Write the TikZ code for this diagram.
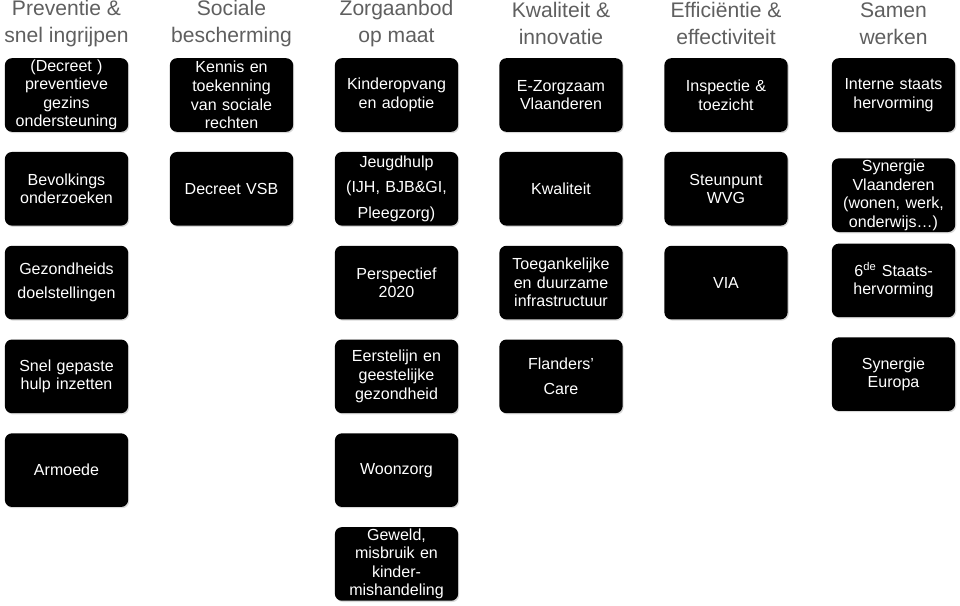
\documentclass[tikz,border=0pt]{standalone}
\usepackage{fontspec}
\setmainfont{Liberation Sans}
\usetikzlibrary{positioning, shadows}
\definecolor{headgray}{RGB}{95,95,95}
\tikzset{
    % header style
    head/.style = {text=headgray, align=center, inner sep=0pt, font=\fontsize{15}{19.2}\selectfont},
    % box style
    item/.style = {fill=black, text=white, rounded corners=5pt, minimum width=3.08cm, minimum height=1.84cm,
        text width=2.95cm, align=center, inner sep=1pt, font=\fontsize{11.4}{13.2}\selectfont,
        drop shadow={opacity=0.3, shadow xshift=0.8pt, shadow yshift=-0.9pt}}
}

\begin{document}
\begin{tikzpicture}[x=0.025cm, y=-0.025cm, node distance=0.49cm]
        \useasboundingbox (0,0) rectangle (960,605);

        % column headers
        \node[head] (hp) at (66.5,23.5) {Preventie \&\\snel ingrijpen};
        \node[head] (hs) at (231.5,23.5) {Sociale\\bescherming};
        \node[head] (hz) at (396.5,23.5) {Zorgaanbod\\op maat};
        \node[head] (hk) at (561,23.5) {Kwaliteit \&\\innovatie};
        \node[head] (he) at (726,23.5) {Efficiëntie \&\\effectiviteit};
        \node[head] (hw) at (893.5,23.5) {Samen\\werken};

        % preventie
        \node[item] (p1) at (66.5,95) {(Decreet )\\preventieve\\gezins\\ondersteuning};
        \node[item] (p2) [below=of p1] {Bevolkings\\onderzoeken};
        \node[item] (p3) [below=of p2] {Gezondheids\\[4pt]doelstellingen};
        \node[item] (p4) [below=of p3] {Snel gepaste\\hulp inzetten};
        \node[item] (p5) [below=of p4] {Armoede};

        % sociale bescherming
        \node[item] (s1) at (231.5,95) {Kennis en\\toekenning\\van sociale\\rechten};
        \node[item] (s2) [below=of s1] {Decreet VSB};

        % zorgaanbod
        \node[item] (z1) at (396.5,95) {Kinderopvang\\en adoptie};
        \node[item] (z2) [below=of z1] {Jeugdhulp\\[5pt](IJH, BJB\&GI,\\[5pt]Pleegzorg)};
        \node[item] (z3) [below=of z2] {Perspectief\\2020};
        \node[item] (z4) [below=of z3] {Eerstelijn en\\geestelijke\\gezondheid};
        \node[item] (z5) [below=of z4] {Woonzorg};
        \node[item] (z6) [below=of z5] {Geweld,\\misbruik en\\kinder-\\mishandeling};

        % kwaliteit
        \node[item] (k1) at (561,95) {E-Zorgzaam\\Vlaanderen};
        \node[item] (k2) [below=of k1] {Kwaliteit};
        \node[item] (k3) [below=of k2] {Toegankelijke\\en duurzame\\infrastructuur};
        \node[item] (k4) [below=of k3] {Flanders’\\[5pt]Care};

        % efficientie
        \node[item] (e1) at (726,95) {Inspectie \&\\toezicht};
        \node[item] (e2) [below=of e1] {Steunpunt\\WVG};
        \node[item] (e3) [below=of e2] {VIA};

        % samen werken
        \node[item] (w1) at (893.5,95) {Interne staats\\hervorming};
        \node[item] (w2) [below=0.65cm of w1] {Synergie\\Vlaanderen\\(wonen, werk,\\onderwijs…)};
        \node[item] (w3) [below=0.275cm of w2] {6\textsuperscript{de} Staats-\\hervorming};
        \node[item] (w4) [below=of w3] {Synergie\\Europa};

    \end{tikzpicture}
\end{document}
